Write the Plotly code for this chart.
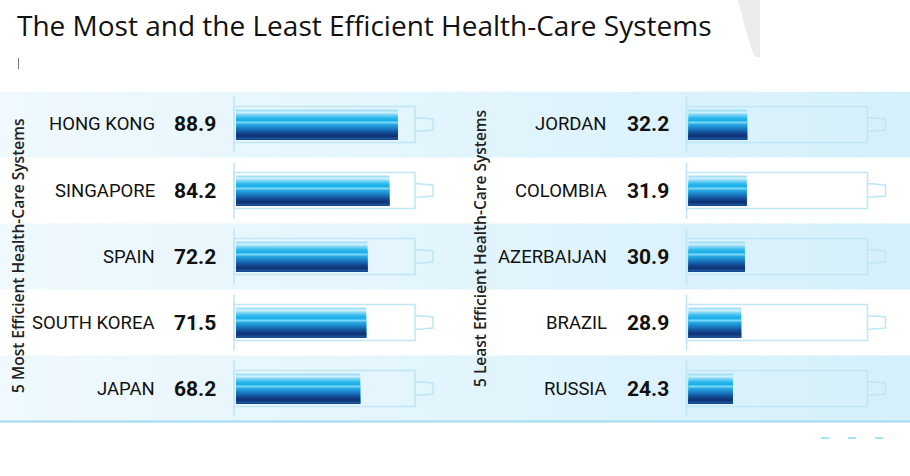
import plotly.graph_objects as go

# ---------------- data ----------------
most_countries = ["HONG KONG", "SINGAPORE", "SPAIN", "SOUTH KOREA", "JAPAN"]
most_scores = [88.9, 84.2, 72.2, 71.5, 68.2]
least_countries = ["JORDAN", "COLOMBIA", "AZERBAIJAN", "BRAZIL", "RUSSIA"]
least_scores = [32.2, 31.9, 30.9, 28.9, 24.3]
title_text = "The Most and the Least Efficient Health-Care Systems"
most_label = "5 Most Efficient Health-Care Systems"
least_label = "5 Least Efficient Health-Care Systems"

# ---------------- geometry helpers ----------------
W, H = 910, 476
PXU = 1.82          # pixels per score unit
ROW_PX = 66.0       # pixels per row
def px(x):
    return x / W
def py(y):
    return 1 - y / H

def xrange_for(d0, d1, origin):
    return [(d0 - origin) / PXU, (d1 - origin) / PXU]

L_ORIGIN, R_ORIGIN = 236.0, 688.5
L_DOM, R_DOM = (224.0, 446.0), (676.5, 898.5)
Y_TOP, Y_BOT = 91.5, 421.5

stripe_colors = ["#a4e0f8", "#cdf0fc", "#86d6f5", "#4fc4f0", "#26b5eb", "#1eb0e9",
                 "#7ad7f6", "#2aa8e1", "#1f93d4", "#1a7cc3", "#1665ae", "#144f97",
                 "#123c82", "#103375", "#1c5299"]
N = len(stripe_colors)
bar_half = 15 / ROW_PX
frame_half = 18 / ROW_PX
vline_half = 28 / ROW_PX
sw = 2 * bar_half / N

fig = go.Figure()
rows = list(range(len(most_countries)))

for axis, scores in (("x", most_scores), ("x2", least_scores)):
    for k, col in enumerate(stripe_colors):
        top = -bar_half + k * sw
        fig.add_trace(go.Bar(
            x=scores, y=rows, orientation="h", base=0,
            width=bar_half - top, offset=top,
            marker=dict(color=col, line=dict(width=0)),
            xaxis=axis, yaxis="y", hoverinfo="skip", showlegend=False))

shapes = []
def lerp(c1, c2, t):
    a = [int(c1[i:i + 2], 16) for i in (1, 3, 5)]
    b = [int(c2[i:i + 2], 16) for i in (1, 3, 5)]
    return "#%02x%02x%02x" % tuple(round(a[j] + (b[j] - a[j]) * t) for j in range(3))

NS = 36
for i in rows:
    if i % 2 == 0:
        for j in range(NS):
            shapes.append(dict(type="rect", xref="paper", yref="y", layer="below",
                               x0=j / NS, x1=(j + 1) / NS + 0.002, y0=i - 0.5, y1=i + 0.5,
                               fillcolor=lerp("#eff9fe", "#d5f0fb", j / (NS - 1)),
                               line=dict(width=0)))

# battery frames
fx0, fx1, nub = -2 / PXU, 179 / PXU, 197 / PXU
for axis in ("x", "x2"):
    for i in rows:
        shapes.append(dict(type="line", xref=axis, yref="y", layer="below",
                           x0=fx0, x1=fx0, y0=i - vline_half, y1=i + vline_half,
                           line=dict(color="#bfe6f5", width=1.5)))
        shapes.append(dict(type="rect", xref=axis, yref="y", layer="below",
                           x0=fx0, x1=fx1, y0=i - frame_half, y1=i + frame_half,
                           line=dict(color="#bfe6f5", width=1.5)))
        a, b = 7 / ROW_PX, 5.5 / ROW_PX
        shapes.append(dict(type="path", xref=axis, yref="y", layer="below",
                           path=f"M {fx1},{i - a} L {nub},{i - b} L {nub},{i + b} L {fx1},{i + a}",
                           line=dict(color="#bfe6f5", width=1.5)))

# bottom rule
shapes.append(dict(type="line", xref="paper", yref="paper", x0=0, x1=1,
                   y0=py(421.5), y1=py(421.5), line=dict(color="#9fdbee", width=2)))
# cursor mark under title
shapes.append(dict(type="line", xref="paper", yref="paper", x0=px(18.5), x1=px(18.5),
                   y0=py(58), y1=py(69), line=dict(color="#777777", width=1)))
# grey tab top right
pts = [(724, 0), (738, 0), (743, 20), (748, 38), (752, 51), (755, 57), (760, 57), (760, 0)]
path = "M " + " L ".join(f"{px(x)},{py(y)}" for x, y in pts) + " Z"
shapes.append(dict(type="path", xref="paper", yref="paper", path=path,
                   fillcolor="#ececec", line=dict(width=0), layer="below"))
# small dashes bottom right
for x0 in (821, 848, 875):
    shapes.append(dict(type="line", xref="paper", yref="paper", x0=px(x0), x1=px(x0 + 8),
                       y0=py(438), y1=py(438), line=dict(color="#aae2f3", width=2)))

name_font = dict(family="Roboto, sans-serif", size=18.5, color="#111111")
val_font = dict(family="Roboto, sans-serif", size=21, color="#111111", weight="bold")

ann = []
for names, scores, name_x, val_x in ((most_countries, most_scores, 157, 172),
                                     (least_countries, least_scores, 609, 625)):
    for i, (n, v) in enumerate(zip(names, scores)):
        ann.append(dict(x=px(name_x), y=i, xref="paper", yref="y", text=n, showarrow=False,
                        xanchor="right", yanchor="middle", font=name_font))
        ann.append(dict(x=px(val_x), y=i, xref="paper", yref="y", text=f"{v:.1f}",
                        showarrow=False, xanchor="left", yanchor="middle", font=val_font))

lab_font = dict(family="Open Sans, sans-serif", size=15.5, color="#222222", weight=600)
ann.append(dict(x=px(18), y=py(256), xref="paper", yref="paper", text=most_label,
                textangle=-90, showarrow=False, xanchor="center", yanchor="middle",
                font=lab_font))
ann.append(dict(x=px(480), y=py(249), xref="paper", yref="paper", text=least_label,
                textangle=-90, showarrow=False, xanchor="center", yanchor="middle",
                font=lab_font))
ann.append(dict(x=px(15), y=py(25), xref="paper", yref="paper", text=title_text,
                showarrow=False, xanchor="left", yanchor="middle",
                font=dict(family="Open Sans, sans-serif", size=28, color="#111111")))

axis_common = dict(showgrid=False, zeroline=False, showticklabels=False, showline=False,
                   ticks="", fixedrange=True)
fig.update_layout(
    width=W, height=H, autosize=False,
    margin=dict(l=0, r=0, t=0, b=0, pad=0),
    paper_bgcolor="white", plot_bgcolor="rgba(0,0,0,0)",
    barmode="overlay", showlegend=False, hovermode=False,
    xaxis=dict(domain=[px(L_DOM[0]), px(L_DOM[1])],
               range=xrange_for(L_DOM[0], L_DOM[1], L_ORIGIN), anchor="y", **axis_common),
    xaxis2=dict(domain=[px(R_DOM[0]), px(R_DOM[1])],
                range=xrange_for(R_DOM[0], R_DOM[1], R_ORIGIN), anchor="y", **axis_common),
    yaxis=dict(domain=[py(Y_BOT), py(Y_TOP)], range=[4.5, -0.5], anchor="x", **axis_common),
    shapes=shapes, annotations=ann,
)

fig.write_html("out.html", config={"displayModeBar": False, "staticPlot": True},
               post_script="document.body.style.margin='0';")
